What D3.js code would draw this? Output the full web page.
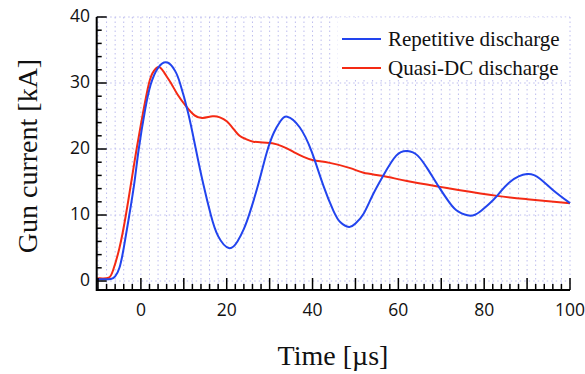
<!DOCTYPE html>
<html><head><meta charset="utf-8">
<script src="https://cdn.jsdelivr.net/npm/d3@7"></script>
<style>body{margin:0;background:#fff}svg{display:block}</style>
</head><body>
<script>
const seriesNames = ["Repetitive discharge", "Quasi-DC discharge"];
const repetitiveT = [-10.3,-8.5,-7,-6,-5,-4,-2.7,-1.5,-0.5,1,2.3,4,6.2,8,9.1,11,12.8,14.5,16.3,18,20.5,22.5,24,25.4,27.5,29.3,31,32.5,34.1,37,39.8,42.5,44.9,46.5,48.5,50,51.9,54,56.5,59.5,62.1,64.5,67,69.4,72,74,76.8,79,81,83,86,90,93,96,100];
const repetitiveI = [0.25,0.25,0.3,0.7,2,5,10,15,20,26,29.8,32.3,33.1,31.8,30,25.5,20,14.8,10,6.8,5.0,6.0,7.9,10.4,15,19.4,22.5,24.2,24.9,23.3,19.6,14.5,10.6,8.9,8.2,8.7,10.2,13,16,19,19.7,19,16.8,14.3,11.8,10.5,9.9,10.5,11.6,12.9,15,16.2,15.5,13.8,11.8];
const quasiT = [-10.3,-9,-7.5,-6.5,-5,-3.5,-2,-1,0.5,1.9,3,4.3,5.5,7,8.5,10.5,12.5,14.4,16.7,18.4,20,21.5,23,24.5,26.2,29.3,31.7,34,36,37.9,40.2,44,48.8,51.9,56.5,62,69.4,74,83,90,100];
const quasiI = [0.4,0.4,0.5,1.6,5,10,16,20,25.5,30,31.8,32.4,31.5,30,28.3,26.5,25.1,24.7,24.95,24.8,24.2,23.1,22,21.5,21.1,20.95,20.7,20.1,19.4,18.8,18.3,17.9,17.1,16.4,15.9,15.15,14.3,13.8,12.9,12.4,11.8];
const xTickLabels = [0,20,40,60,80,100];
const yTickLabels = [0,10,20,30,40];

const W=585,H=374;
const svg=d3.select("body").append("svg").attr("width",W).attr("height",H);
const x=d3.scaleLinear().domain([-10.3,100]).range([96.7,570]);
const y=d3.scaleLinear().domain([-1.36,40]).range([290,17]);

const gridColor="#bcbcee";
const vg=d3.range(-10,100.01,2);
svg.append("g").selectAll("line").data(vg).join("line")
  .attr("x1",d=>x(d)).attr("x2",d=>x(d)).attr("y1",y(40)).attr("y2",y(-1.36))
  .attr("stroke",gridColor).attr("stroke-width",1).attr("stroke-dasharray","1.5,3");
svg.append("g").selectAll("line").data([0,10,20,30,40]).join("line")
  .attr("x1",x(-10.3)).attr("x2",x(100)).attr("y1",d=>y(d)).attr("y2",d=>y(d))
  .attr("stroke",gridColor).attr("stroke-width",1).attr("stroke-dasharray","1.5,3");

svg.append("rect").attr("x",338).attr("y",17.5).attr("width",229).attr("height",62).attr("fill","#fff");

const line=d3.line().x(d=>x(d[0])).y(d=>y(d[1])).curve(d3.curveNatural);
const blue="#2244ee", red="#f42a14";
svg.append("path").datum(d3.zip(quasiT,quasiI)).attr("d",line).attr("fill","none").attr("stroke",red).attr("stroke-width",2);
svg.append("path").datum(d3.zip(repetitiveT,repetitiveI)).attr("d",line).attr("fill","none").attr("stroke",blue).attr("stroke-width",2);

const ax=svg.append("g");
ax.append("line").attr("x1",x(-10.3)).attr("x2",x(100)).attr("y1",290).attr("y2",290).attr("stroke","#000").attr("stroke-width",2);
ax.append("line").attr("x1",x(-10.3)).attr("x2",x(-10.3)).attr("y1",17).attr("y2",291).attr("stroke","#000").attr("stroke-width",2);
const xt=d3.range(-10,100.01,2);
ax.selectAll(".xt").data(xt).join("line").attr("class","xt")
  .attr("x1",d=>x(d)).attr("x2",d=>x(d)).attr("y1",290)
  .attr("y2",d=>Math.abs(d%10)<1e-6?278:284).attr("stroke","#000").attr("stroke-width",1.5);
const yt=d3.range(0,40.01,2);
ax.selectAll(".yt").data(yt).join("line").attr("class","yt")
  .attr("y1",d=>y(d)).attr("y2",d=>y(d)).attr("x1",x(-10.3))
  .attr("x2",d=>Math.abs(d%10)<1e-6?x(-10.3)+10:x(-10.3)+5).attr("stroke","#000").attr("stroke-width",1.5);

ax.selectAll(".xl").data(xTickLabels).join("text").attr("class","xl")
  .attr("x",d=>x(d)).attr("y",316).attr("text-anchor","middle")
  .attr("font-family","Open Sans, sans-serif").attr("font-size",17.5).attr("fill","#111").text(d=>d);
ax.selectAll(".yl").data(yTickLabels).join("text").attr("class","yl")
  .attr("x",90).attr("y",d=>y(d)+4.5).attr("text-anchor","end")
  .attr("font-family","Open Sans, sans-serif").attr("font-size",17.5).attr("fill","#111").text(d=>d);

svg.append("text").attr("x",333).attr("y",365).attr("text-anchor","middle")
  .attr("font-family","Liberation Serif, Times New Roman, serif").attr("font-size",28).attr("fill","#111").text("Time [µs]");
svg.append("text").attr("transform","translate(37,156) rotate(-90)").attr("text-anchor","middle")
  .attr("font-family","Liberation Serif, Times New Roman, serif").attr("font-size",28).attr("fill","#111").text("Gun current [kA]");

const lg=svg.append("g");
[[blue,39,46],[red,68,75]].forEach((c,i)=>{
  lg.append("line").attr("x1",342).attr("x2",381).attr("y1",c[1]).attr("y2",c[1]).attr("stroke",c[0]).attr("stroke-width",2);
  lg.append("text").attr("x",388).attr("y",c[2]).attr("font-family","Liberation Serif, Times New Roman, serif")
    .attr("font-size",21).attr("fill","#111").text(seriesNames[i]);
});
</script>
</body></html>
